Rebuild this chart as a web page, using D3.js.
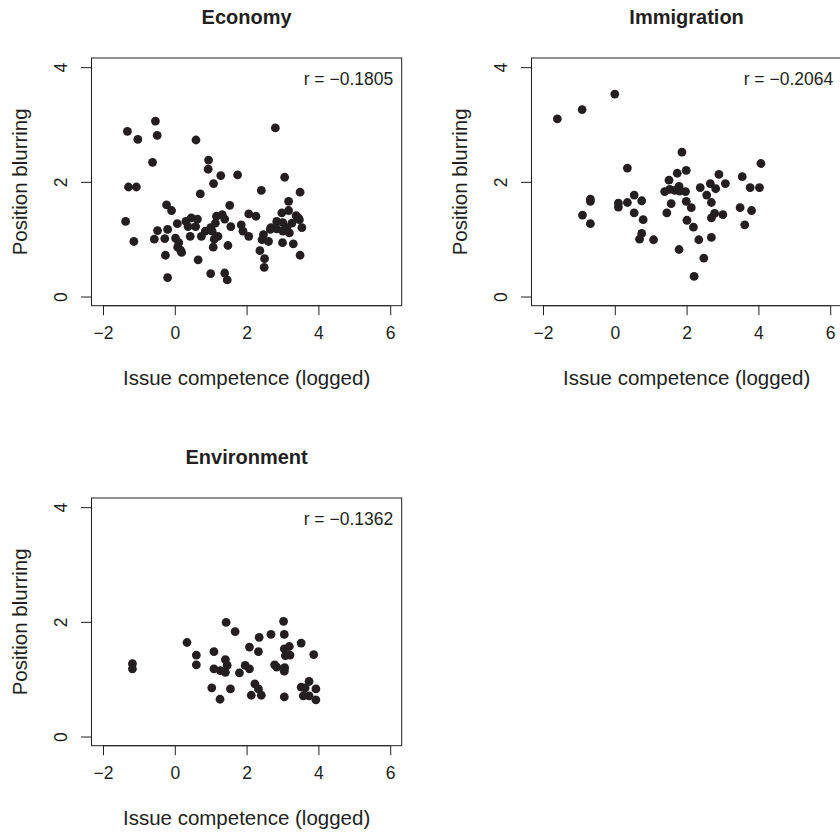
<!DOCTYPE html>
<html>
<head>
<meta charset="utf-8">
<script src="https://cdn.jsdelivr.net/npm/d3@7"></script>
<style>
  body { margin: 0; background: #fff; }
  svg { display: block; font-family: "Liberation Sans", Arial, Helvetica, sans-serif; }
</style>
</head>
<body>
<div id="chart"></div>
<script>
// Data (x = issue competence, logged; y = position blurring)
const panelTitles = ["Economy", "Immigration", "Environment"];
const correlations = ["−0.1805", "−0.2064", "−0.1362"];
const xTicks = [-2, 0, 2, 4, 6];
const yTicks = [0, 2, 4];

const economyX = [-1.32, -1.03, -0.54, -0.49, 0.59, 2.80, -0.62, 0.94, 0.93, 1.28, 1.75, 3.06,
    -1.29, -1.07, 1.08, 2.41, 3.49, 0.71, 3.17, 1.53, -0.23, -0.09, -1.37, -1.14,
    -0.20, 1.00, 1.39, 1.46, 2.49, 2.50, 2.37, 3.49, 0.65, -0.26, 1.07, 1.48, 3.00, 3.30,
    2.06, 0.07, 0.31, 0.46, 0.63, 0.37, 0.58, -0.48, -0.20, -0.57, -0.28, 0.02, 0.11, 0.08,
    0.19, 0.43, 0.74, 0.85, 1.00, 1.16, 1.32, 1.39, 1.13, 1.04, 1.20, 1.56, 1.85, 1.90,
    2.06, 2.26, 2.47, 2.43, 2.61, 2.98, 3.17, 3.38, 3.47, 2.84, 3.01, 3.26, 2.68, 2.84,
    3.12, 3.19, 3.54, 3.01, 1.10, 0.16, 3.44, 2.66];
const economyY = [2.88, 2.74, 3.06, 2.81, 2.73, 2.94, 2.34, 2.38, 2.22, 2.11, 2.12, 2.08,
    1.91, 1.91, 1.97, 1.85, 1.82, 1.79, 1.66, 1.59, 1.60, 1.50, 1.31, 0.96,
    0.33, 0.40, 0.41, 0.29, 0.51, 0.66, 0.80, 0.72, 0.64, 0.72, 0.86, 0.89, 0.94, 0.92,
    1.44, 1.27, 1.31, 1.37, 1.35, 1.22, 1.22, 1.15, 1.17, 1.00, 1.01, 1.02, 0.94, 0.86,
    0.77, 1.05, 1.05, 1.14, 1.20, 1.40, 1.43, 1.35, 1.28, 1.14, 1.05, 1.22, 1.25, 1.14,
    1.05, 1.40, 1.08, 0.99, 0.96, 1.46, 1.50, 1.41, 1.34, 1.31, 1.29, 1.28, 1.20, 1.18,
    1.20, 1.11, 1.20, 1.14, 1.00, 0.81, 1.37, 1.17];

const immigrationX = [-1.60, -0.91, 0.00, 4.07, 1.87, 0.35, 1.74, 1.99, 1.51, 2.90, 3.55,
    1.39, 1.53, 1.67, 1.79, 1.81, 1.97, 2.38, 2.66, 2.81, 3.08, 3.77, 4.03,
    -0.68, -0.68, 0.10, 0.10, 0.35, 0.54, 0.75, -0.90, -0.68, 0.54, 0.79, 0.75, 0.69, 1.08,
    1.57, 1.45, 1.99, 2.13, 2.56, 2.69, 2.69, 2.78, 3.01, 2.01, 2.19, 2.34, 2.69, 1.79,
    2.48, 2.21, 3.49, 3.81, 3.62];
const immigrationY = [3.10, 3.26, 3.53, 2.32, 2.52, 2.24, 2.15, 2.20, 2.03, 2.13, 2.09,
    1.83, 1.87, 1.85, 1.92, 1.84, 1.83, 1.90, 1.97, 1.88, 1.97, 1.90, 1.90,
    1.70, 1.66, 1.63, 1.56, 1.64, 1.77, 1.67, 1.42, 1.27, 1.46, 1.34, 1.10, 1.00, 0.99,
    1.62, 1.46, 1.66, 1.55, 1.77, 1.64, 1.37, 1.45, 1.43, 1.33, 1.21, 0.99, 1.03, 0.82,
    0.67, 0.35, 1.55, 1.50, 1.25];

const environmentX = [1.43, 3.03, 1.68, 2.35, 2.68, 3.05, 0.34, 2.08, 2.33, 1.09, 0.60, 0.60,
    -1.18, -1.18, 3.05, 3.19, 3.52, 3.08, 3.21, 3.87, 1.41, 1.46, 1.41, 1.09, 1.27, 1.80,
    1.96, 2.08, 2.78, 2.84, 3.06, 3.05, 1.03, 1.55, 1.26, 2.23, 2.33, 2.13, 2.41, 3.05,
    3.74, 3.52, 3.63, 3.93, 3.58, 3.74, 3.93];
const environmentY = [1.99, 2.01, 1.83, 1.73, 1.78, 1.78, 1.64, 1.56, 1.48, 1.48, 1.42, 1.25,
    1.27, 1.18, 1.53, 1.57, 1.63, 1.41, 1.42, 1.43, 1.34, 1.24, 1.12, 1.18, 1.15, 1.11,
    1.24, 1.18, 1.25, 1.21, 1.20, 1.14, 0.85, 0.83, 0.65, 0.92, 0.83, 0.72, 0.72, 0.69,
    0.96, 0.86, 0.85, 0.83, 0.71, 0.71, 0.64];

const seriesX = [economyX, immigrationX, environmentX];
const seriesY = [economyY, immigrationY, environmentY];

const ink = "#231f20";
const width = 840, height = 834;
const cell = 440;  // each panel sits in a 440x440 cell of a 2x2 grid
const box = { left: 91.5, top: 58, right: 401.7, bottom: 305.7 };

const svg = d3.select("#chart")
    .append("svg")
    .attr("width", width)
    .attr("height", height);

// R-style scales: limits -2..6 and 0..4 padded by 4%
const x = d3.scaleLinear().domain([-2.32, 6.32]).range([box.left, box.right]);
const y = d3.scaleLinear().domain([-0.16, 4.16]).range([box.bottom, box.top]);
const fmt = d => d < 0 ? "−" + Math.abs(d) : String(d);

panelTitles.forEach((title, i) => {
    const col = i % 2, row = Math.floor(i / 2);
    const g = svg.append("g")
        .attr("transform", `translate(${col * cell}, ${row * cell})`);

    const cx = (box.left + box.right) / 2;
    const cy = (box.top + box.bottom) / 2;

    // Title
    g.append("text")
        .attr("x", cx)
        .attr("y", 23.5)
        .attr("text-anchor", "middle")
        .attr("font-size", 20)
        .attr("font-weight", "bold")
        .attr("fill", ink)
        .text(title);

    // Plot frame
    g.append("rect")
        .attr("x", box.left)
        .attr("y", box.top)
        .attr("width", box.right - box.left)
        .attr("height", box.bottom - box.top)
        .attr("fill", "none")
        .attr("stroke", ink)
        .attr("stroke-width", 1);

    // X axis
    const xAxis = g.append("g")
        .attr("transform", `translate(0, ${box.bottom})`)
        .call(d3.axisBottom(x).tickValues(xTicks).tickFormat(fmt).tickSize(9.5).tickPadding(11));
    xAxis.select(".domain")
        .attr("d", `M${x(xTicks[0])},0H${x(xTicks[xTicks.length - 1])}`);

    // Y axis
    const yAxis = g.append("g")
        .attr("transform", `translate(${box.left}, 0)`)
        .call(d3.axisLeft(y).tickValues(yTicks).tickFormat(fmt).tickSize(10.5));
    yAxis.select(".domain")
        .attr("d", `M0,${y(yTicks[0])}V${y(yTicks[yTicks.length - 1])}`);
    yAxis.selectAll(".tick text")
        .attr("x", 0)
        .attr("dy", null)
        .attr("text-anchor", "middle")
        .attr("transform", "translate(-25, 0) rotate(-90)");

    [xAxis, yAxis].forEach(ax => {
        ax.selectAll(".domain, .tick line").attr("stroke", ink);
        ax.selectAll(".tick text")
            .attr("fill", ink)
            .attr("font-size", 17.5)
            .attr("font-family", "Liberation Sans, Arial, sans-serif");
    });

    // Axis titles
    g.append("text")
        .attr("x", cx)
        .attr("y", 385)
        .attr("text-anchor", "middle")
        .attr("font-size", 20.5)
        .attr("fill", ink)
        .text("Issue competence (logged)");

    g.append("text")
        .attr("transform", `translate(26.5, ${cy}) rotate(-90)`)
        .attr("text-anchor", "middle")
        .attr("font-size", 20.5)
        .attr("fill", ink)
        .text("Position blurring");

    // Correlation note
    g.append("text")
        .attr("x", box.right - 8.5)
        .attr("y", 85)
        .attr("text-anchor", "end")
        .attr("font-size", 17.5)
        .attr("fill", ink)
        .text(`r = ${correlations[i]}`);

    // Points
    const pts = seriesX[i].map((v, j) => ({ x: v, y: seriesY[i][j] }));
    g.selectAll("circle.pt")
        .data(pts)
        .enter()
        .append("circle")
        .attr("class", "pt")
        .attr("cx", d => x(d.x))
        .attr("cy", d => y(d.y))
        .attr("r", 4.4)
        .attr("fill", ink);
});
</script>
</body>
</html>
